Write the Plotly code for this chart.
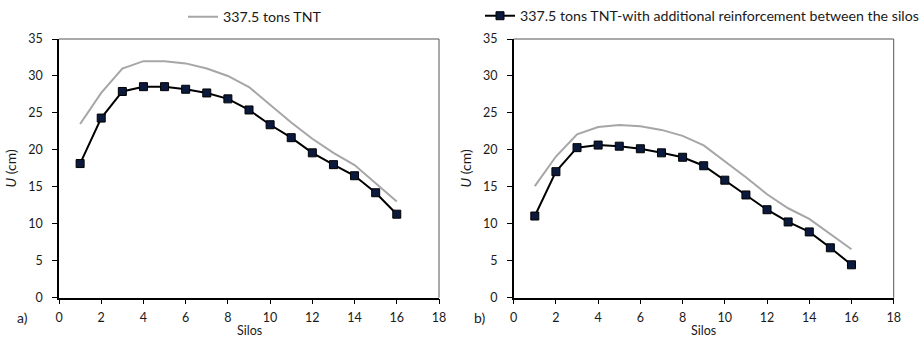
import plotly.graph_objects as go

silos = list(range(1, 17))

# Panel a) displacement U (cm)
a_base = [23.5, 27.7, 31.0, 32.0, 32.0, 31.7, 31.0, 30.0, 28.5, 26.1, 23.7, 21.5, 19.6, 17.95, 15.5, 13.0]
a_reinf = [18.15, 24.3, 27.9, 28.55, 28.55, 28.2, 27.7, 26.9, 25.4, 23.4, 21.65, 19.6, 18.0, 16.5, 14.2, 11.3]

# Panel b) displacement U (cm)
b_base = [15.1, 19.1, 22.1, 23.1, 23.35, 23.2, 22.7, 21.9, 20.6, 18.5, 16.3, 14.0, 12.1, 10.65, 8.6, 6.55]
b_reinf = [11.05, 17.05, 20.3, 20.65, 20.5, 20.15, 19.6, 19.0, 17.85, 15.9, 13.9, 11.9, 10.25, 8.9, 6.75, 4.45]

name_base = "337.5 tons TNT"
name_reinf = "337.5 tons TNT-with additional reinforcement between the silos"
x_title = "Silos"
x_ticks = list(range(0, 19, 2))
y_ticks = list(range(0, 36, 5))

FONT = "Lato"
TXT = "#1a1a1a"
GRAY = "#a6a6a6"
NAVY = "#0b1a3c"

fig = go.Figure()

for xa, ya, base, reinf, show in [("x", "y", a_base, a_reinf, True), ("x2", "y2", b_base, b_reinf, False)]:
    fig.add_trace(go.Scatter(
        x=silos, y=base, mode="lines", name=name_base, xaxis=xa, yaxis=ya,
        line=dict(color=GRAY, width=2), showlegend=show, legend="legend",
    ))
    fig.add_trace(go.Scatter(
        x=silos, y=reinf, mode="lines+markers", name=name_reinf, xaxis=xa, yaxis=ya,
        line=dict(color="black", width=2),
        marker=dict(symbol="square", size=8, color=NAVY, line=dict(color="black", width=1)),
        showlegend=show, legend="legend2",
    ))

axis_common = dict(
    range=[0, 18], tickvals=x_ticks, ticks="outside", ticklen=5, tickcolor="black",
    showline=True, linecolor="black", linewidth=1.5, showgrid=False, zeroline=False,
    automargin=False, ticklabelstandoff=3,
    tickfont=dict(family=FONT, size=12.5, color=TXT),
)
yaxis_common = dict(
    range=[0, 35], tickvals=y_ticks, ticks="outside", ticklen=5, tickcolor="black",
    showline=True, linecolor="black", linewidth=1.5, showgrid=False, zeroline=False,
    automargin=False, ticklabelstandoff=7,
    tickfont=dict(family=FONT, size=12.5, color=TXT),
    title=dict(text="<i>U</i> (cm)", font=dict(family=FONT, size=14, color=TXT), standoff=8),
)

xd1 = [59 / 924, 439 / 924]
xd2 = [513.7 / 924, 893.7 / 924]
yd = [(338 - 297.7) / 338, (338 - 39) / 338]

legend_font = dict(family=FONT, size=14.2, color=TXT)

fig.update_layout(
    width=924, height=338,
    margin=dict(l=0, r=0, t=0, b=0, autoexpand=False),
    paper_bgcolor="white", plot_bgcolor="white",
    font=dict(family=FONT, size=12, color=TXT),
    xaxis=dict(domain=xd1, anchor="y", **axis_common),
    yaxis=dict(domain=yd, anchor="x", **yaxis_common),
    xaxis2=dict(domain=xd2, anchor="y2", **axis_common),
    yaxis2=dict(domain=yd, anchor="x2", **yaxis_common),
    legend=dict(x=183 / 924, y=0.997, xref="container", yref="container",
                xanchor="left", yanchor="top", orientation="h",
                font=legend_font, bgcolor="rgba(0,0,0,0)"),
    legend2=dict(x=1.0, y=1.0, xref="container", yref="container",
                 xanchor="right", yanchor="top", orientation="h",
                 font=legend_font, bgcolor="rgba(0,0,0,0)"),
    showlegend=True,
)

# top/right frame of each plot area
for xd in (xd1, xd2):
    fig.add_shape(type="line", xref="paper", yref="paper", x0=xd[0], x1=xd[1], y0=yd[1], y1=yd[1],
                  line=dict(color="#555", width=1))
    fig.add_shape(type="line", xref="paper", yref="paper", x0=xd[1], x1=xd[1], y0=yd[0], y1=yd[1],
                  line=dict(color="#555", width=1))

# x-axis titles along the bottom edge of the figure
for xd in (xd1, xd2):
    fig.add_annotation(text=x_title, x=(xd[0] + xd[1]) / 2, y=7.5 / 338,
                       xref="paper", yref="paper", xanchor="center", yanchor="middle",
                       showarrow=False, font=dict(family=FONT, size=12.5, color=TXT))

for label, xpos in [("a)", 22.5 / 924), ("b)", 479 / 924)]:
    fig.add_annotation(text=label, x=xpos, y=(338 - 317) / 338, xref="paper", yref="paper",
                       xanchor="center", yanchor="middle",
                       showarrow=False, font=dict(family=FONT, size=14, color=TXT))

fig.write_html("out.html")
